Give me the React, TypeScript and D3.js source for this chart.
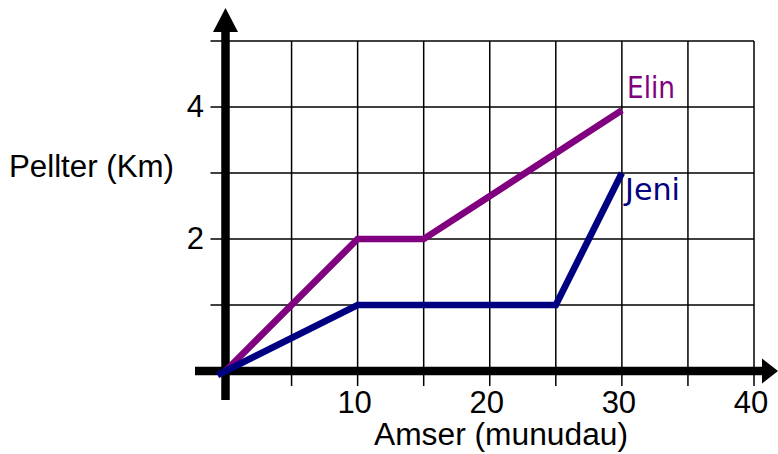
import React from 'react';
import * as d3 from 'd3';

// minutes vs km
const elinTimes = [0, 10, 15, 30];
const elinDist = [0, 2, 2, 3.95];
const jeniTimes = [-0.6, 10, 25, 30];
const jeniDist = [-0.06, 1, 1, 3];

const xTicks = [10, 20, 30, 40];
const yTicks = [2, 4];
const gridX = [5, 10, 15, 20, 25, 30, 35, 40];
const gridY = [1, 2, 3, 4, 5];

const W = 778;
const H = 454;

const App: React.FC = () => {
  const x = d3.scaleLinear().domain([0, 40]).range([225.5, 754]);
  const y = d3.scaleLinear().domain([0, 5]).range([371, 41]);

  const line = d3.line<[number, number]>()
    .x(d => x(d[0]))
    .y(d => y(d[1]));

  const elin = line(elinTimes.map((t, i) => [t, elinDist[i]] as [number, number])) || '';
  const jeni = line(jeniTimes.map((t, i) => [t, jeniDist[i]] as [number, number])) || '';

  const x0 = x(0);
  const y0 = y(0);
  const axisFont = '"Liberation Sans", Arial, sans-serif';

  return (
    <svg width={W} height={H} style={{ position: 'absolute', left: 0, top: 0, background: '#fff' }}>
      {/* grid */}
      <g stroke="#000" strokeWidth={1.5}>
        {gridX.map(v => (
          <line key={'gx' + v} x1={x(v)} x2={x(v)} y1={y(5)} y2={y0 + 15} />
        ))}
        {gridY.map(v => (
          <line key={'gy' + v} x1={x0 - 15} x2={x(40)} y1={y(v)} y2={y(v)} />
        ))}
      </g>

      {/* axes */}
      <line x1={195} x2={764} y1={y0} y2={y0} stroke="#000" strokeWidth={8.5} />
      <path d={`M${W},${y0} L${762},${y0 - 12.5} L${762},${y0 + 12.5} Z`} fill="#000" />
      <line x1={x0} x2={x0} y1={400} y2={30} stroke="#000" strokeWidth={8.5} />
      <path d={`M${x0},8 L${x0 - 12.5},32 L${x0 + 12.5},32 Z`} fill="#000" />

      {/* series */}
      <path d={elin} fill="none" stroke="#800080" strokeWidth={6.7} strokeLinejoin="miter" />
      <path d={jeni} fill="none" stroke="#000080" strokeWidth={6.7} strokeLinejoin="miter" />

      <text x={627} y={98} fill="#800080" fontFamily='"DejaVu Sans", Verdana, sans-serif' fontSize={30}
        textLength={48} lengthAdjust="spacingAndGlyphs">Elin</text>
      <text x={625} y={200} fill="#000080" fontFamily='"DejaVu Sans", Verdana, sans-serif' fontSize={30}
        textLength={55} lengthAdjust="spacingAndGlyphs">Jeni</text>

      {/* tick labels */}
      <g fontFamily={axisFont} fontSize={31} fill="#000">
        {xTicks.map(v => (
          <text key={'xt' + v} x={x(v) - 3} y={413} textAnchor="middle">{v}</text>
        ))}
        {yTicks.map(v => (
          <text key={'yt' + v} x={204} y={y(v) + 10} textAnchor="end">{v}</text>
        ))}
      </g>

      {/* axis titles */}
      <text x={374} y={445} fontFamily={axisFont} fontSize={31}
        textLength={254} lengthAdjust="spacingAndGlyphs">Amser (munudau)</text>
      <text x={9} y={177} fontFamily={axisFont} fontSize={31}
        textLength={165} lengthAdjust="spacingAndGlyphs">Pellter (Km)</text>
    </svg>
  );
};

export default App;
